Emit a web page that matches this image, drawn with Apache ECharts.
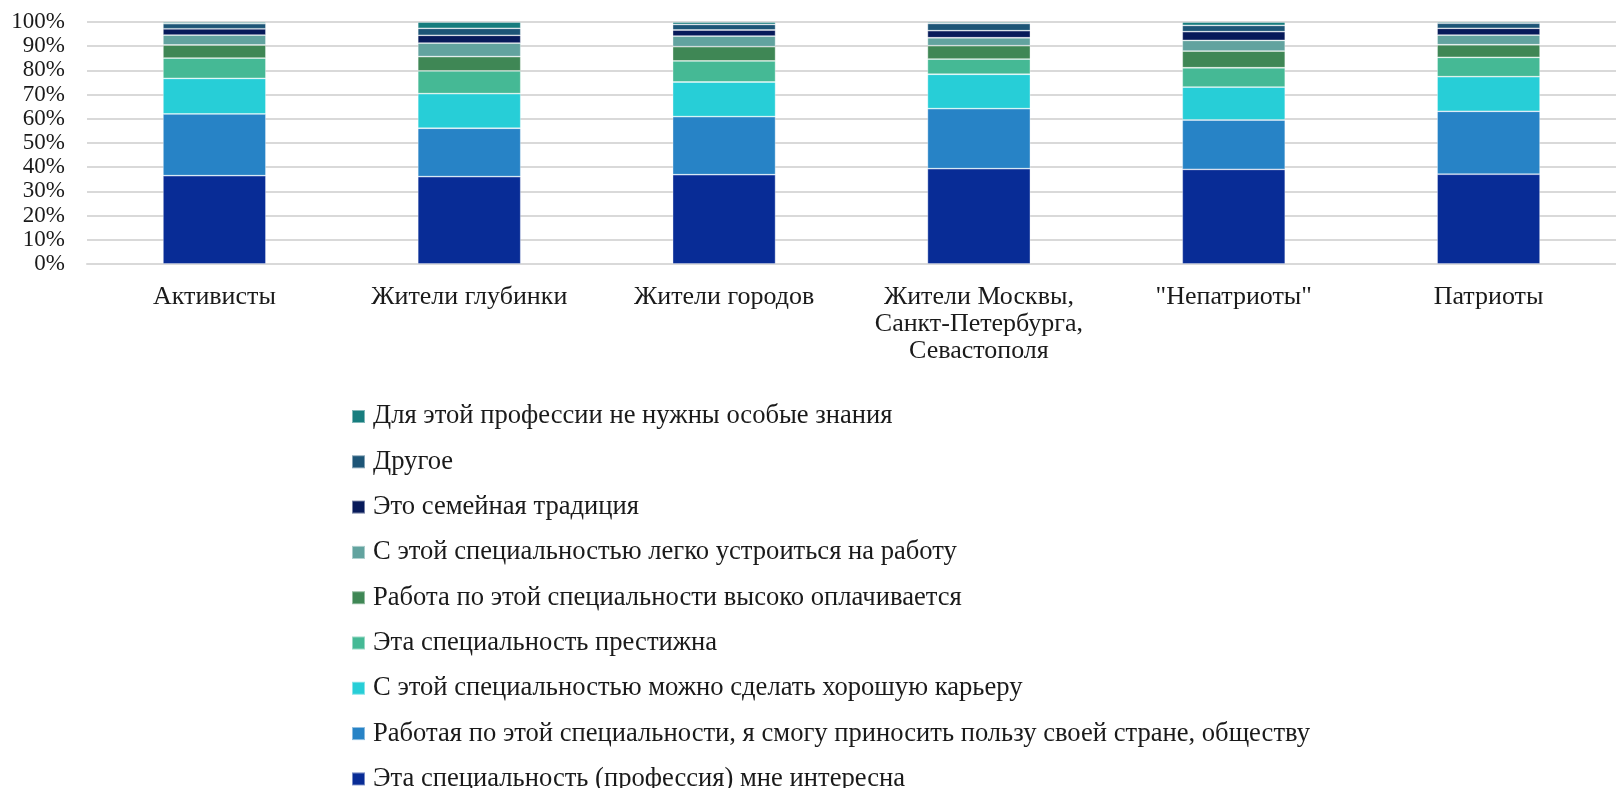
<!DOCTYPE html>
<html>
<head>
<meta charset="utf-8">
<script src="https://cdn.jsdelivr.net/npm/echarts@6/dist/echarts.min.js"></script>
<style>
  html, body { margin: 0; padding: 0; background: #fff; }
  #main { width: 1616px; height: 788px; }
</style>
</head>
<body>
<div id="main"></div>
<script>
// категории (группы респондентов)
var categories = ['Активисты', 'Жители глубинки', 'Жители городов',
  'Жители Москвы,\nСанкт-Петербурга,\nСевастополя', '"Непатриоты"', 'Патриоты']
var yTicks = [0, 10, 20, 30, 40, 50, 60, 70, 80, 90, 100]

// доли ответов, % (снизу вверх)
var interesting = [36.5, 36.1, 36.9, 39.4, 39.1, 37.1]
var usefulCountry = [25.5, 20.0, 24.0, 24.8, 20.4, 26.0]
var career = [14.7, 14.3, 14.3, 14.2, 13.6, 14.3]
var prestige = [8.4, 9.4, 8.7, 6.3, 8.0, 8.0]
var wellPaid = [5.4, 5.9, 5.9, 5.5, 6.9, 5.2]
var easyJob = [4.1, 5.6, 4.4, 3.3, 4.4, 4.0]
var family = [2.6, 3.2, 2.5, 2.9, 3.6, 2.8]
var other = [2.1, 2.9, 2.3, 3.0, 2.6, 2.1]
var noKnowledge = [0.7, 2.6, 1.0, 0.6, 1.4, 0.6]

var seriesDefs = [
  { name: 'Эта специальность (профессия) мне интересна', data: interesting, color: '#082c96' },
  { name: 'Работая по этой специальности, я смогу приносить пользу своей стране, обществу', data: usefulCountry, color: '#2783c6' },
  { name: 'С этой специальностью можно сделать хорошую карьеру', data: career, color: '#27ced7' },
  { name: 'Эта специальность престижна', data: prestige, color: '#45b995' },
  { name: 'Работа по этой специальности высоко оплачивается', data: wellPaid, color: '#3f8755' },
  { name: 'С этой специальностью легко устроиться на работу', data: easyJob, color: '#62a39f' },
  { name: 'Это семейная традиция', data: family, color: '#071a5a' },
  { name: 'Другое', data: other, color: '#1d5577' },
  { name: 'Для этой профессии не нужны особые знания', data: noKnowledge, color: '#177d7e' }
]

var myChart = echarts.init(document.getElementById('main'))

var series = []
for (var i = 0; i < seriesDefs.length; i++) {
  series.push({
    name: seriesDefs[i].name,
    type: 'bar',
    stack: 'total',
    barWidth: 103,
    itemStyle: {
      color: seriesDefs[i].color,
      borderColor: 'rgba(255,255,255,0.45)',
      borderWidth: 0.8
    },
    data: seriesDefs[i].data
  })
}

var legendNames = seriesDefs.map(function(s) { return s.name }).reverse()

var option = {
  animation: false,
  textStyle: { fontFamily: '"Liberation Serif", "Times New Roman", serif' },
  grid: {
    left: 87,
    right: -16,
    top: 22,
    bottom: 524,
    containLabel: false
  },
  legend: {
    data: legendNames,
    orient: 'vertical',
    left: 346,
    top: 398,
    height: 400,
    icon: 'rect',
    itemWidth: 13,
    itemHeight: 13,
    itemGap: 18.3,
    textStyle: {
      fontFamily: '"Liberation Serif", serif',
      fontSize: 26.6,
      lineHeight: 27,
      color: '#1a1a1a',
      padding: [0, 0, 0, 3]
    }
  },
  xAxis: {
    type: 'category',
    data: categories,
    axisTick: { show: false },
    axisLine: { lineStyle: { color: '#d9d9d9', width: 2 } },
    axisLabel: {
      fontFamily: '"Liberation Serif", serif',
      fontSize: 26,
      lineHeight: 27,
      color: '#1a1a1a',
      margin: 20,
      interval: 0
    }
  },
  yAxis: {
    type: 'value',
    min: 0,
    max: 100,
    interval: 10,
    axisLine: { show: false },
    axisTick: { show: false },
    splitLine: { lineStyle: { color: '#d9d9d9', width: 2 } },
    axisLabel: {
      fontFamily: '"Liberation Serif", serif',
      fontSize: 23,
      color: '#1a1a1a',
      margin: 22,
      formatter: function(v) {
        return yTicks.indexOf(v) >= 0 ? v + '%' : ''
      }
    }
  },
  series: series
}

myChart.setOption(option)
</script>
</body>
</html>
